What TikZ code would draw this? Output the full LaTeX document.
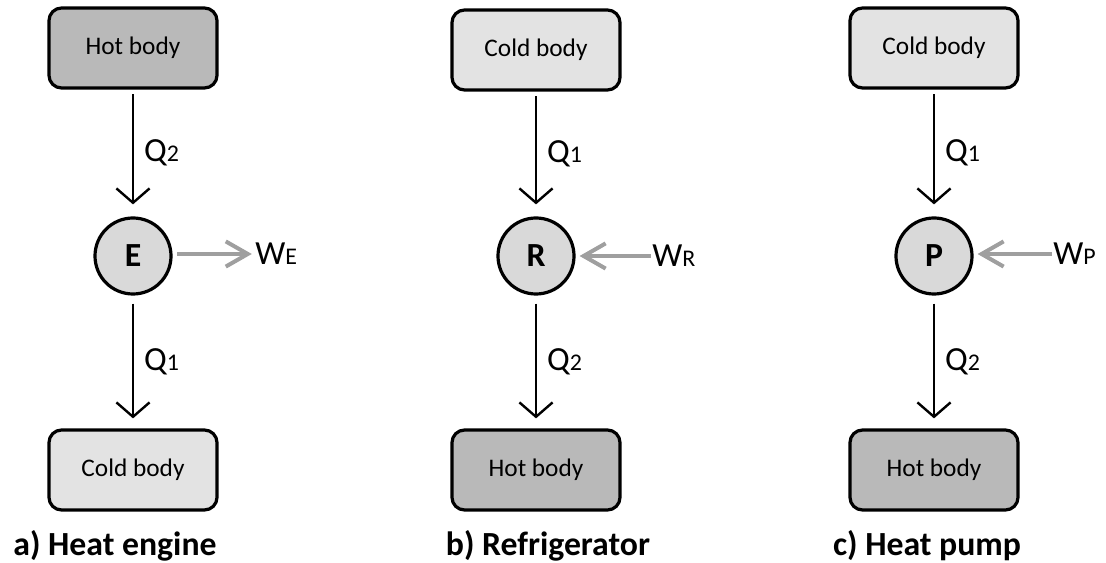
\documentclass[tikz,border=0pt]{standalone}
\usepackage{fontspec}
\setmainfont{Carlito}
\usepackage{tikz}
\usetikzlibrary{arrows.meta, positioning}

\newcommand{\smidx}[1]{{\fontsize{17}{18}\selectfont #1}}

\begin{document}
\begin{tikzpicture}[
  x=0.025cm, y=-0.025cm,
  body/.style={draw, rounded corners=9pt, line width=0.8mm, minimum width=4.2cm,
               minimum height=2.0cm, font=\fontsize{18}{20}\selectfont},
  hot/.style={body, fill=gray!55},
  cold/.style={body, fill=gray!22},
  machine/.style={draw, circle, line width=0.8mm, fill=gray!30, minimum size=1.9cm,
                  inner sep=0pt, font=\fontsize{24}{26}\selectfont\bfseries},
  flow/.style={-{Straight Barb[length=3.6mm, width=8.3mm]}, line width=0.6mm},
  work/.style={-{Straight Barb[length=5.5mm, width=6.3mm]}, line width=1mm, draw=gray!75},
  qlbl/.style={font=\fontsize{24}{26}\selectfont, inner sep=0pt},
  caption/.style={font=\fontsize{24}{28}\selectfont\bfseries},
]
  \useasboundingbox (0,0) rectangle (1106,563);

  % a) heat engine
  \node[hot] (hotA) at (133,48) {Hot body};
  \node[machine] (E) at (133,256) {E};
  \node[cold] (coldA) at (133,470) {Cold body};
  \node[qlbl, anchor=west] (wE) at (255,254) {W\smidx{E}};
  \node[caption] (capA) at (115,546) {a) Heat engine};

  \draw[flow, shorten <=1.2mm, shorten >=3mm] (hotA) -- node[qlbl, right=2.5mm] {Q\smidx{2}} (E);
  \draw[flow, shorten <=2mm, shorten >=2.5mm] (E) -- node[qlbl, right=2.5mm] {Q\smidx{1}} (coldA);
  \draw[work, shorten <=1.2mm, shorten >=0.8mm] (E.east |- wE) -- (wE);

  % b) refrigerator
  \node[cold] (coldB) at (536,50) {Cold body};
  \node[machine] (R) at (536,256) {R};
  \node[hot] (hotB) at (536,470) {Hot body};
  \node[qlbl, anchor=west] (wR) at (652,256) {W\smidx{R}};
  \node[caption] (capB) at (548,546) {b) Refrigerator};

  \draw[flow, shorten <=1.2mm, shorten >=3mm] (coldB) -- node[qlbl, right=2.5mm] {Q\smidx{1}} (R);
  \draw[flow, shorten <=2mm, shorten >=2.5mm] (R) -- node[qlbl, right=2.5mm] {Q\smidx{2}} (hotB);
  \draw[work, shorten <=0.3mm, shorten >=1mm] (wR) -- (R);

  % c) heat pump
  \node[cold] (coldC) at (934,48) {Cold body};
  \node[machine] (P) at (934,256) {P};
  \node[hot] (hotC) at (934,470) {Hot body};
  \node[qlbl, anchor=west] (wP) at (1053,254) {W\smidx{P}};
  \node[caption] (capC) at (927,546) {c) Heat pump};

  \draw[flow, shorten <=1.2mm, shorten >=3mm] (coldC) -- node[qlbl, right=2.5mm] {Q\smidx{1}} (P);
  \draw[flow, shorten <=2mm, shorten >=2.5mm] (P) -- node[qlbl, right=2.5mm] {Q\smidx{2}} (hotC);
  \draw[work, shorten <=0.3mm, shorten >=1mm] (wP) -- (wP -| P.east);

\end{tikzpicture}
\end{document}
